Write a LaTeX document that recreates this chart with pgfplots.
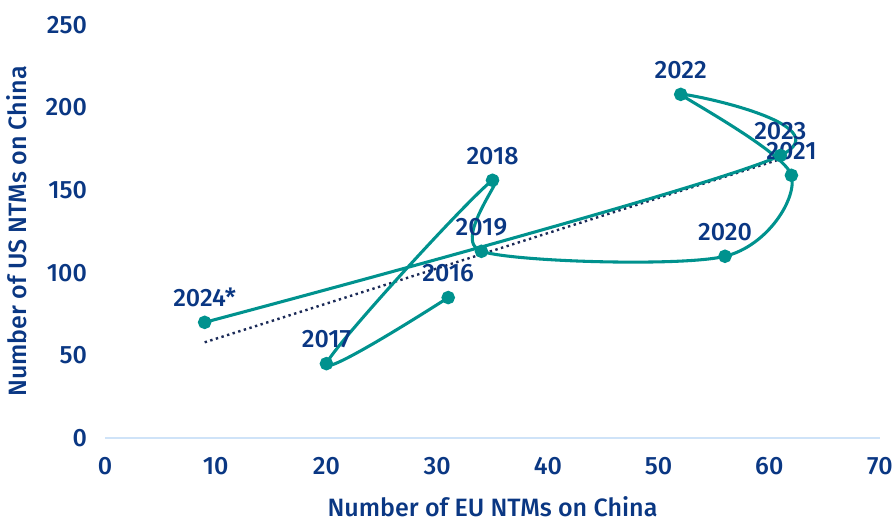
\documentclass[border=0pt]{standalone}
\usepackage{fontspec}
\setmainfont{Fira Sans}[BoldFont={Fira Sans Medium}]
\usepackage{pgfplots}
\usepackage{pgfplotstable}
\pgfplotsset{compat=1.18}
\definecolor{tealc}{HTML}{00928E}
\definecolor{navy}{HTML}{0A3783}
\definecolor{trendc}{HTML}{1B2A57}
\definecolor{axisblue}{HTML}{CFE3F8}
\pgfplotstableread{
x y lab
31 85 2016
20 45 2017
35 156 2018
34 113 2019
56 110 2020
62 159 2021
52 208 2022
61 171 2023
9 70 2024*
}\pts
\pgfplotstableread{
x y
9 57.9
61 168.8
}\trend
\begin{document}
\begin{tikzpicture}
\path[use as bounding box] (0,0) rectangle (671.25pt,392.25pt);
\begin{axis}[
  at={(78.75pt,63.75pt)}, anchor=south west,
  scale only axis, width=581.25pt, height=309.75pt,
  xmin=0, xmax=70, ymin=0, ymax=250,
  xtick={0,10,...,70}, ytick={0,50,...,250},
  axis y line*=left, axis x line*=bottom,
  y axis line style={draw=none},
  x axis line style={draw=axisblue, line width=1.2pt, -},
  major tick length=0pt,
  clip=false,
  /pgf/number format/assume math mode=true,
  tick label style={font=\bfseries\fontsize{18.8}{20}\selectfont, text=navy},
  yticklabel style={anchor=east, xshift=-10pt},
  xticklabel style={anchor=north, yshift=-11pt},
  xlabel={Number of EU NTMs on China},
  ylabel={Number of US NTMs on China},
  label style={font=\bfseries\fontsize{18.8}{20}\selectfont, text=navy},
  xlabel style={at={(axis description cs:0.5,-0.166)}, anchor=center},
  ylabel style={at={(axis description cs:-0.114,0.5)}, anchor=center},
]
\addplot[trendc, line width=1.8pt, dash pattern=on 1.8pt off 2.6pt] table[x=x,y=y] {\trend};
\addplot[tealc, line width=2.3pt, smooth, tension=0.5, mark=*, mark size=3.9pt,
  mark options={solid, fill=tealc, draw=tealc},
  point meta=explicit symbolic,
  nodes near coords,
  nodes near coords style={anchor=south, yshift=7pt, font=\bfseries\fontsize{18.8}{20}\selectfont, text=navy}]
  table[x=x,y=y,meta=lab] {\pts};
\end{axis}
\end{tikzpicture}
\end{document}
